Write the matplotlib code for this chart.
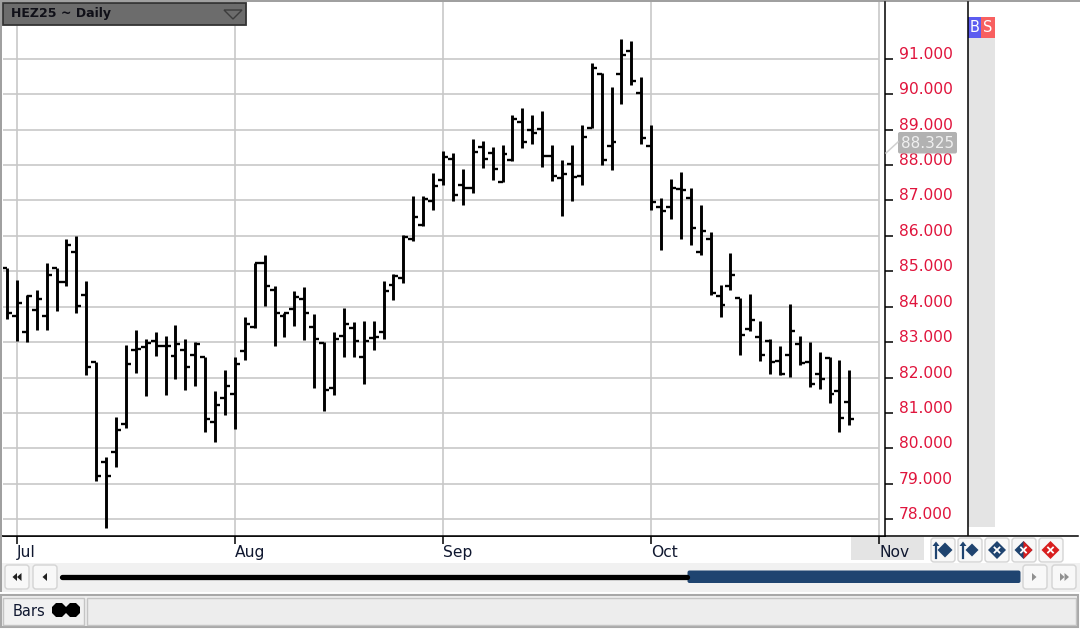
import matplotlib

matplotlib.use("Agg")
import matplotlib.pyplot as plt
from matplotlib.patches import FancyBboxPatch, Polygon, Rectangle

# daily bars, HEZ25
opens = [85.10, 83.74, 83.30, 83.90, 83.74, 85.10, 84.70, 85.54, 84.34, 82.43,
         79.62, 79.91, 80.70, 82.79, 82.86, 83.03, 82.90, 82.62, 82.78, 82.65,
         82.59, 80.74, 81.43, 81.54, 82.74, 83.44, 85.22, 84.46, 83.73, 83.94,
         84.21, 83.42, 82.98, 81.70, 83.18, 83.39, 82.59, 83.12, 83.30, 84.62,
         84.81, 85.90, 86.30, 86.99, 87.59, 88.18, 87.43, 87.34, 88.50, 88.34,
         87.53, 88.14, 89.22, 88.99, 89.02, 88.26, 87.62, 88.02, 87.70, 89.05,
         90.58, 88.54, 90.56, 91.23, 90.04, 88.55, 86.81, 86.81, 87.33, 87.06,
         85.54, 85.90, 84.30, 84.58, 84.24, 83.38, 83.15, 83.03, 82.47, 82.63,
         82.95, 82.43, 82.11, 82.56, 81.63, 81.32]
highs = [85.10, 84.76, 84.34, 84.48, 85.24, 85.10, 85.92, 86.00, 84.72, 82.43,
         79.76, 80.88, 82.92, 83.33, 83.08, 83.28, 83.16, 83.48, 83.08, 82.99,
         82.59, 81.61, 82.20, 82.57, 83.72, 85.24, 85.47, 84.59, 83.83, 84.44,
         84.56, 83.80, 82.99, 83.28, 83.97, 83.56, 83.61, 83.61, 84.72, 84.92,
         86.03, 87.13, 87.13, 87.77, 88.40, 88.33, 87.89, 88.73, 88.68, 88.52,
         88.57, 89.41, 89.61, 89.41, 89.53, 88.57, 88.13, 88.57, 89.13, 90.89,
         90.60, 90.21, 91.56, 91.49, 90.49, 89.13, 87.08, 87.60, 87.80, 87.36,
         86.88, 86.12, 84.60, 85.53, 84.24, 84.37, 83.61, 83.08, 82.89, 84.09,
         83.17, 83.00, 82.72, 82.59, 82.49, 82.21]
lows = [83.66, 83.03, 82.99, 83.35, 83.35, 83.87, 84.59, 83.83, 82.07, 79.07,
        77.76, 79.47, 80.59, 82.14, 81.47, 82.62, 81.51, 81.95, 81.66, 81.75,
        80.47, 80.19, 80.95, 80.54, 82.51, 83.39, 84.02, 82.90, 83.15, 83.46,
        83.06, 81.71, 81.07, 81.51, 82.59, 82.59, 81.82, 82.78, 83.10, 84.18,
        84.67, 85.85, 86.28, 86.72, 87.43, 86.99, 86.87, 87.20, 87.91, 87.59,
        87.53, 88.11, 88.48, 88.59, 87.95, 87.55, 86.56, 86.99, 87.43, 89.05,
        88.00, 87.87, 89.71, 90.27, 88.59, 86.74, 85.59, 86.47, 85.91, 85.75,
        85.47, 84.32, 83.71, 84.46, 82.64, 83.32, 82.47, 82.11, 82.07, 82.02,
        82.35, 81.72, 81.67, 81.27, 80.47, 80.67]
closes = [83.82, 84.10, 84.30, 84.21, 84.90, 84.70, 85.75, 84.02, 82.29, 79.23,
          79.23, 80.51, 82.38, 82.82, 82.97, 82.90, 82.90, 82.94, 82.30, 82.94,
          80.82, 81.22, 81.75, 82.38, 83.50, 85.24, 84.58, 83.83, 83.82, 84.26,
          83.82, 83.10, 81.66, 83.08, 83.51, 83.02, 83.02, 83.14, 84.43, 84.87,
          85.96, 86.54, 87.03, 87.42, 88.23, 87.15, 87.36, 88.38, 88.18, 87.90,
          88.31, 89.31, 88.66, 88.89, 88.26, 87.70, 87.74, 87.66, 88.78, 90.75,
          88.15, 88.66, 91.11, 90.38, 88.75, 86.95, 86.70, 87.34, 87.30, 86.22,
          86.15, 84.38, 84.06, 84.90, 83.19, 83.62, 82.63, 82.43, 82.09, 83.31,
          82.42, 81.83, 81.95, 81.55, 80.87, 80.83]

month_labels = ["Jul", "Aug", "Sep", "Oct", "Nov"]
month_bars = [1, 23, 44, 65, 88]
price_ticks = [78, 79, 80, 81, 82, 83, 84, 85, 86, 87, 88, 89, 90, 91]
last_price = "88.325"
title = "HEZ25 ~ Daily"

WIDTH, HEIGHT = 1080, 630
GRID = "#c8c8c8"
BLUE = "#1f4470"
RED = "#d81e1e"


def main() -> None:
    fig = plt.figure(figsize=(WIDTH / 100, HEIGHT / 100), dpi=100, facecolor="white")
    back = pixel_axes(fig, 0)
    ax = fig.add_axes([3 / WIDTH, 1 - 535.5 / HEIGHT, 882 / WIDTH, 533.5 / HEIGHT], zorder=1)
    front = pixel_axes(fig, 2)

    draw_window(back)
    draw_bars(ax)
    draw_overlays(front)

    fig.savefig("out.png", dpi=100)


def pixel_axes(fig, order):
    """Full figure axes in screen pixels, used for the window furniture."""
    a = fig.add_axes([0, 0, 1, 1], zorder=order)
    a.set_xlim(0, WIDTH)
    a.set_ylim(HEIGHT, 0)
    a.axis("off")
    a.patch.set_alpha(0)
    return a


def draw_bars(ax) -> None:
    """Draws the OHLC bars with the price and month axes."""
    x = list(range(len(opens)))
    ax.set_xlim((3 - 7) / 9.91, (885 - 7) / 9.91)
    ax.set_ylim(91 - (535.5 - 58.7) / 35.43, 91 + (58.7 - 2) / 35.43)

    ax.grid(axis="x", color=GRID, lw=1.2)
    ax.hlines(price_ticks, ax.get_xlim()[0], month_bars[-1], color=GRID, lw=1.2, zorder=1)
    ax.set_axisbelow(True)

    ax.vlines(x, lows, highs, color="black", lw=2.1, capstyle="butt", zorder=3)
    ax.hlines(opens, [i - 0.5 for i in x], x, color="black", lw=1.7, zorder=3)
    ax.hlines(closes, x, [i + 0.5 for i in x], color="black", lw=1.7, zorder=3)

    # the price labels sit just above their tick, not centred on it
    ax.yaxis.tick_right()
    ax.set_yticks(price_ticks)
    ax.set_yticklabels([f"{p:.3f}" for p in price_ticks], color="#e0143c", fontsize=11.2, va="baseline")
    ax.tick_params(axis="y", length=5.8, width=1.1, pad=4.3)

    ax.set_xticks(month_bars)
    ax.set_xticklabels(month_labels, color="#101830", fontsize=11.2, ha="left")
    ax.tick_params(axis="x", length=5.5, width=1.1, pad=1.5)

    ax.spines["top"].set_visible(False)
    ax.spines["left"].set_visible(False)
    for side in ("bottom", "right"):
        ax.spines[side].set_linewidth(1.1)


def button(a, x0, y0, x1, y1) -> None:
    a.add_patch(FancyBboxPatch((x0 + 2, y0 + 2), x1 - x0 - 4, y1 - y0 - 4,
                               boxstyle="round,pad=2,rounding_size=3",
                               fc="#f8f8f8", ec="#d4d4d4", lw=1))


def diamond(a, cx, cy, r, color) -> None:
    a.add_patch(Polygon([(cx - r, cy), (cx, cy - r), (cx + r, cy), (cx, cy + r)], fc=color, ec="none"))


def draw_window(a) -> None:
    """Everything around the plot: side strip, scroller, status bar."""
    a.add_patch(Rectangle((0, 0), 2, 592, fc="#a0a0a0", ec="none"))
    a.add_patch(Rectangle((0, 0), WIDTH, 2, fc="#a0a0a0", ec="none"))

    # right hand strip with the buy/sell buttons
    a.plot([967.5, 967.5], [2, 535], color="black", lw=1.1)
    a.plot([3, 1078], [535.5, 535.5], color="black", lw=1.1)
    a.add_patch(Rectangle((968, 38), 27, 489, fc="#e4e4e4", ec="none"))
    a.add_patch(Rectangle((968, 17), 13, 21, fc="#5c5cf0", ec="none"))
    a.add_patch(Rectangle((981, 17), 14, 21, fc="#f86060", ec="none"))
    a.text(974.5, 28, "B", color="white", fontsize=10.5, ha="center", va="center")
    a.text(988, 28, "S", color="white", fontsize=10.5, ha="center", va="center")

    a.add_patch(Rectangle((851, 537), 73, 23, fc="#e4e4e4", ec="none"))

    # order buttons under the price scale
    for x0 in (931, 958, 985, 1012, 1039):
        button(a, x0, 538, x0 + 24, 562)
    diamond(a, 945, 550, 7.5, BLUE)
    diamond(a, 972, 550, 6.5, BLUE)
    diamond(a, 997, 550, 9, BLUE)
    diamond(a, 1023.5, 550, 9, BLUE)
    diamond(a, 1050.5, 550, 9, RED)
    a.add_patch(Polygon([(1023.5, 541), (1032.5, 550), (1023.5, 559)], fc=RED, ec="none"))
    for cx in (997, 1023.5, 1050.5):
        a.plot([cx - 2.5, cx + 2.5], [547.5, 552.5], color="white", lw=1.3)
        a.plot([cx - 2.5, cx + 2.5], [552.5, 547.5], color="white", lw=1.3)
    for cx in (936, 963):
        a.plot([cx, cx], [545, 558], color=BLUE, lw=1.6)
        a.add_patch(Polygon([(cx - 3.5, 546), (cx, 541.5), (cx + 3.5, 546)], fc=BLUE, ec="none"))

    # scroller
    a.add_patch(Rectangle((2, 563), WIDTH - 2, 29, fc="#f1f1f1", ec="none"))
    for x0 in (5, 33, 1023, 1052):
        button(a, x0, 565, x0 + 24, 589)
    a.plot([62, 687], [576.5, 576.5], color="black", lw=3.8, solid_capstyle="round")
    a.add_patch(FancyBboxPatch((689, 572), 330, 9.5, boxstyle="round,pad=1.5,rounding_size=2",
                               fc=BLUE, ec="none"))
    arrows = [(15, -1), (19.5, -1), (45, -1), (1034, 1), (1062, 1), (1066.5, 1)]
    for cx, way in arrows:
        tone = "#202020" if way < 0 else "#909090"
        a.add_patch(Polygon([(cx + 2.5 * way, 577), (cx - 2 * way, 573), (cx - 2 * way, 581)],
                            fc=tone, ec="none"))

    # status bar
    a.add_patch(Rectangle((1, 595), 1077, 32, fc="#efefef", ec="#a8a8a8", lw=1.5))
    a.add_patch(Rectangle((3, 598), 81, 27, fc="#f1f1f1", ec="#c4c4c4", lw=1))
    a.add_patch(Rectangle((87, 598), 989, 27, fc="#ededed", ec="#c4c4c4", lw=1))
    a.text(13, 611, "Bars", color="#101830", fontsize=10.5, ha="left", va="center")
    for cx in (59, 73):
        a.add_patch(Polygon([(cx - 7, 607), (cx - 3, 603), (cx + 3, 603), (cx + 7, 607),
                             (cx + 7, 613), (cx + 3, 617), (cx - 3, 617), (cx - 7, 613)],
                            fc="black", ec="none"))


def draw_overlays(a) -> None:
    """Instrument caption and the last price tag, both sit on top of the plot."""
    a.add_patch(Rectangle((3, 3), 243, 21.5, fc="#6c6c6c", ec="#333333", lw=1.3))
    a.text(11, 14, title, color="#101018", fontsize=9, fontweight="bold", ha="left", va="center")
    a.add_patch(Polygon([(224, 10), (242, 10), (233, 19)], fc="#6c6c6c", ec="#3c3c3c", lw=1))

    a.plot([886, 898], [153, 142], color="#d0d0d0", lw=1.1)
    a.add_patch(FancyBboxPatch((900, 134), 55, 17.5, boxstyle="round,pad=2,rounding_size=2",
                               fc="#b2b2b2", ec="none"))
    a.text(927.5, 143, last_price, color="#f0f0f0", fontsize=11, ha="center", va="center")


if __name__ == "__main__":
    main()
